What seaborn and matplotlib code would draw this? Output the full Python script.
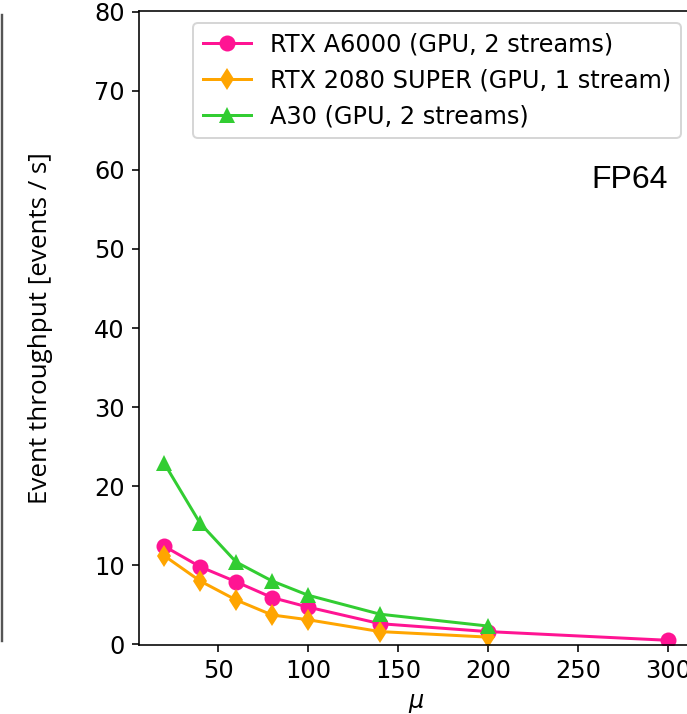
import numpy as np
import pandas as pd
import seaborn as sns
import matplotlib.pyplot as plt
from matplotlib.lines import Line2D

# pile-up values and measured throughput (events / s), FP64
mu_a6000 = [20, 40, 60, 80, 100, 140, 200, 300]
thr_a6000 = [12.4, 9.8, 7.9, 5.9, 4.7, 2.6, 1.6, 0.5]

mu_2080 = [20, 40, 60, 80, 100, 140, 200]
thr_2080 = [11.2, 8.0, 5.6, 3.7, 3.1, 1.6, 0.9]

mu_a30 = [20, 40, 60, 80, 100, 140, 200]
thr_a30 = [22.9, 15.3, 10.4, 8.0, 6.2, 3.8, 2.3]

labels = ["RTX A6000 (GPU, 2 streams)",
          "RTX 2080 SUPER (GPU, 1 stream)",
          "A30 (GPU, 2 streams)"]
colors = ["#ff1493", "#ffa500", "#32cd32"]
markers = ["o", "d", "^"]

plt.rcParams["font.family"] = ["DejaVu Sans"]
plt.rcParams["font.size"] = 12

fig = plt.figure(figsize=(687 / 144, 714 / 144), dpi=144)
ax = fig.add_axes([0.2023, 0.0966, 0.8064, 0.888])

series = [(mu_a6000, thr_a6000), (mu_2080, thr_2080), (mu_a30, thr_a30)]
for (x, y), lab, col, mk in zip(series, labels, colors, markers):
    df = pd.DataFrame({"mu": x, "thr": y})
    sns.lineplot(data=df, x="mu", y="thr", ax=ax, label=lab, color=col,
                 marker=mk, markersize=8, markeredgewidth=0, linewidth=1.5)

ax.set_xlim(6, 314)
ax.set_ylim(-0.1, 80.1)
ax.set_xticks([50, 100, 150, 200, 250, 300])
ax.set_yticks(np.arange(0, 81, 10))
ax.tick_params(labelsize=12)

ax.set_xlabel(r"$\mu$", fontsize=12)
ax.set_ylabel("Event throughput [events / s]", fontsize=13, family="Open Sans")
ax.yaxis.set_label_coords(-0.155, 0.5)

ax.text(0.955, 0.721, "FP64", transform=ax.transAxes, ha="right",
        va="baseline", fontsize=16, family="Liberation Sans")

ax.legend(loc="upper right", fontsize=12)

# edge of the neighbouring panel
fig.add_artist(Line2D([0.0036, 0.0036], [0.102, 0.979], transform=fig.transFigure,
                      color="#555555", lw=1.2))

fig.savefig("out.png", dpi=144)
